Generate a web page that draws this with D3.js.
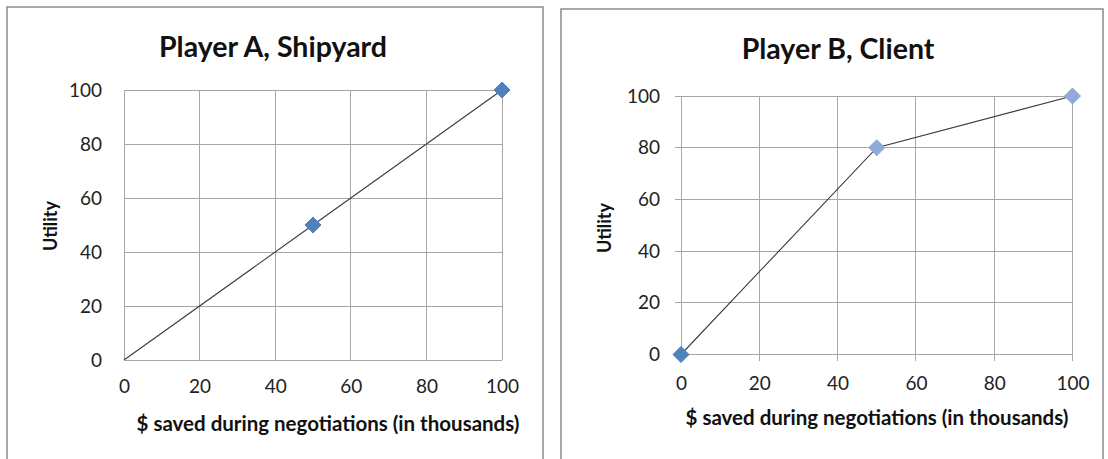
<!DOCTYPE html>
<html>
<head>
<meta charset="utf-8">
<script src="https://cdn.jsdelivr.net/npm/d3@7"></script>
<style>
  html, body { margin: 0; padding: 0; background: #fff; }
  svg { display: block; font-family: Lato, "Open Sans", sans-serif; }
</style>
</head>
<body>
<svg id="chart" width="1108" height="459"></svg>
<script>
// Utility curves for the two negotiating parties
const xTicks = [0, 20, 40, 60, 80, 100];
const yTicks = [0, 20, 40, 60, 80, 100];

const shipyardSaved   = [0, 50, 100];
const shipyardUtility = [0, 50, 100];
const shipyardMarked  = [false, true, true];
const shipyardShades  = ["dark", "dark", "dark"];

const clientSaved   = [0, 50, 100];
const clientUtility = [0, 80, 100];
const clientMarked  = [true, true, true];
const clientShades  = ["dark", "light", "light"];

const titles = ["Player A, Shipyard", "Player B, Client"];
const xTitle = "$ saved during negotiations (in thousands)";
const yTitle = "Utility";

const shadeColor = { dark: "#4f81bd", light: "#8eaad8" };

const svg = d3.select("#chart");

function drawPanel(opt) {
  const g = svg.append("g");

  // chart frame
  g.append("rect")
    .attr("x", opt.frame[0]).attr("y", opt.frame[1])
    .attr("width", opt.frame[2]).attr("height", opt.frame[3])
    .attr("fill", "#fff").attr("stroke", "#8c8c8c").attr("stroke-width", 1.5);

  const x = d3.scaleLinear().domain([0, 100]).range([opt.plot.left, opt.plot.right]);
  const y = d3.scaleLinear().domain([0, 100]).range([opt.plot.bottom, opt.plot.top]);

  // gridlines
  g.append("g").selectAll("line.v").data(xTicks).join("line")
    .attr("x1", d => x(d)).attr("x2", d => x(d))
    .attr("y1", y(0) + opt.tick).attr("y2", y(100))
    .attr("stroke", "#a6a6a6").attr("stroke-width", 1).attr("shape-rendering", "crispEdges");
  g.append("g").selectAll("line.h").data(yTicks).join("line")
    .attr("y1", d => y(d)).attr("y2", d => y(d))
    .attr("x1", x(0) - opt.tick).attr("x2", x(100))
    .attr("stroke", "#a6a6a6").attr("stroke-width", 1).attr("shape-rendering", "crispEdges");

  // axes (labels only; lines come from the grid)
  const xAxis = d3.axisBottom(x).tickValues(xTicks).tickSize(0).tickPadding(0);
  const xa = g.append("g").attr("transform", `translate(0,${opt.xLabelY})`).call(xAxis);
  xa.select(".domain").remove();
  xa.selectAll("text").attr("font-size", 19).attr("fill", "#222").attr("dy", "0.35em")
    .attr("font-family", "Lato, sans-serif");

  const yAxis = d3.axisLeft(y).tickValues(yTicks).tickSize(0).tickPadding(0);
  const ya = g.append("g").attr("transform", `translate(${opt.yLabelX},0)`).call(yAxis);
  ya.select(".domain").remove();
  ya.selectAll("text").attr("font-size", 19).attr("fill", "#222")
    .attr("font-family", "Lato, sans-serif");

  // titles
  g.append("text").attr("x", opt.titlePos[0]).attr("y", opt.titlePos[1])
    .attr("text-anchor", "middle").attr("font-size", 28.5).attr("font-weight", 700)
    .attr("fill", "#111").text(opt.title);
  g.append("text").attr("x", opt.xTitlePos[0]).attr("y", opt.xTitlePos[1])
    .attr("text-anchor", "middle").attr("font-size", 20.5).attr("font-weight", 700)
    .attr("fill", "#111").text(xTitle);
  g.append("text")
    .attr("transform", `translate(${opt.yTitlePos[0]},${opt.yTitlePos[1]}) rotate(-90)`)
    .attr("text-anchor", "middle").attr("font-size", 18).attr("font-weight", 700)
    .attr("fill", "#111").text(yTitle);

  // series line
  const pts = opt.xs.map((v, i) => [v, opt.ys[i]]);
  g.append("path").datum(pts)
    .attr("d", d3.line().x(d => x(d[0])).y(d => y(d[1])))
    .attr("fill", "none").attr("stroke", "#3a3a3a").attr("stroke-width", 1.1);

  // diamond markers
  const diamond = d3.symbol().type(d3.symbolDiamond2).size(165);
  g.append("g").selectAll("path").data(pts.map((p, i) => ({ p, i })).filter(d => opt.marked[d.i]))
    .join("path")
    .attr("d", diamond)
    .attr("transform", d => `translate(${x(d.p[0])},${y(d.p[1])})`)
    .attr("fill", d => shadeColor[opt.shades[d.i]])
    .attr("stroke", d => shadeColor[opt.shades[d.i]])
    .attr("stroke-width", 1).attr("stroke-linejoin", "round");
}

drawPanel({
  frame: [7, 7, 536, 470],
  plot: { left: 124, right: 502, top: 90, bottom: 360 },
  tick: 0,
  xLabelY: 386, yLabelX: 102,
  title: titles[0], titlePos: [273, 57],
  xTitlePos: [328, 431], yTitlePos: [57, 226],
  xs: shipyardSaved, ys: shipyardUtility, marked: shipyardMarked, shades: shipyardShades
});

drawPanel({
  frame: [561, 9, 542, 470],
  plot: { left: 681, right: 1072.5, top: 96, bottom: 354.5 },
  tick: 6,
  xLabelY: 383, yLabelX: 660,
  title: titles[1], titlePos: [838, 59],
  xTitlePos: [877, 425], yTitlePos: [611, 228],
  xs: clientSaved, ys: clientUtility, marked: clientMarked, shades: clientShades
});
</script>
</body>
</html>
